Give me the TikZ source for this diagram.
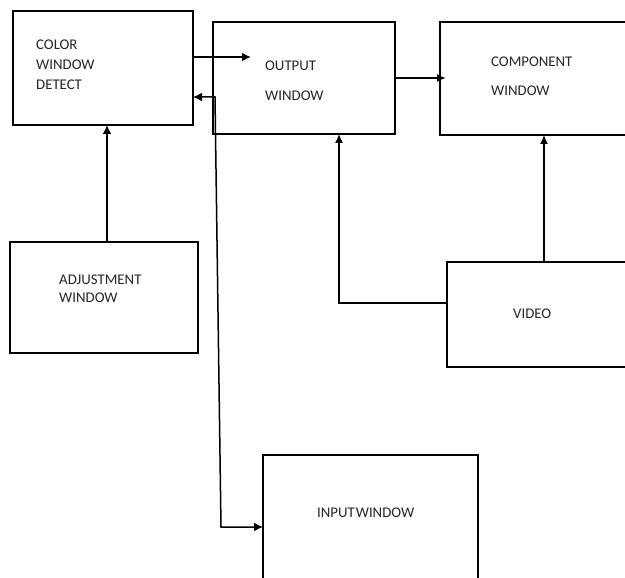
\documentclass[tikz,border=0pt]{standalone}
\usepackage{fontspec}
\setmainfont{Carlito}
\usetikzlibrary{arrows.meta,positioning}
\begin{document}
\begin{tikzpicture}[x=1pt,y=-1pt,
  box/.style={draw=black,line width=2.6pt,inner sep=0pt,outer sep=0pt,fill=white},
  lbl/.style={inner sep=0pt,anchor=west,text=black!85,font=\fontsize{14.8}{17}\selectfont},
  arr/.style={line width=1.9pt,-{Latex[length=9pt,width=9pt]}},
  thinarr/.style={line width=1.4pt,-{Latex[length=9pt,width=8pt]}}]
\useasboundingbox (0,0) rectangle (625,578);
\clip (0,0) rectangle (625,578);
\fill[white] (0,0) rectangle (625,578);
% boxes
\node[box,minimum width=180pt,minimum height=114pt] (color) at (103,68) {};
\node[box,minimum width=182pt,minimum height=112pt] (output) at (304,78) {};
\node[box,minimum width=220pt,minimum height=113pt] (comp) at (550,78.5) {};
\node[box,minimum width=188pt,minimum height=111pt] (adj) at (104,297.5) {};
\node[box,minimum width=212pt,minimum height=105pt] (video) at (553,314.5) {};
\node[box,minimum width=215pt,minimum height=165pt] (input) at (370.5,537.5) {};
% labels
\node[lbl] (t1) at (36,45) {COLOR};
\node[lbl] (t2) at (36,65) {WINDOW};
\node[lbl] (t3) at (36,85) {DETECT};
\node[lbl] (t4) at (265,66) {OUTPUT};
\node[lbl] (t5) at (265,96) {WINDOW};
\node[lbl] (t6) at (491,62) {COMPONENT};
\node[lbl] (t7) at (491,91) {WINDOW};
\node[lbl] (t8) at (59,280) {ADJUSTMENT};
\node[lbl] (t9) at (59,298) {WINDOW};
\node[lbl] (t10) at (513,314) {VIDEO};
\node[lbl] (t11) at (317,513) {INPUT\hspace{1pt}WINDOW};
% helper coordinates
\coordinate (y57) at (0,57);
\coordinate (y97) at (0,97);
\coordinate (y303) at (0,303);
\coordinate (y527) at (0,527);
\coordinate (x107) at (107,0);
\coordinate (x339) at (339,0);
\coordinate (x544) at (544,0);
\coordinate (bend1) at (215,97);
\coordinate (bend2) at (221,527);
\coordinate (bend3) at (339,303);
\coordinate (tipout) at (251,57);
\coordinate (tipcomp) at (446,78);
% connectors
\draw[arr] (color.east |- y57) -- (tipout);
\draw[line width=1.9pt,-{Latex[length=9pt,width=8pt]}] (output.east |- tipcomp) -- (tipcomp);
\draw[arr] (adj.north -| x107) -- (color.south -| x107);
\draw[line width=1.5pt,{Latex[length=9pt,width=9pt]}-{Latex[length=9pt,width=9pt]}]
  (color.east |- y97) -- (bend1) -- (bend2) -- (input.west |- y527);
\draw[thinarr] (video.west |- y303) -- (bend3) -- (output.south -| x339);
\draw[thinarr] (video.north -| x544) -- (comp.south -| x544);
\end{tikzpicture}
\end{document}
